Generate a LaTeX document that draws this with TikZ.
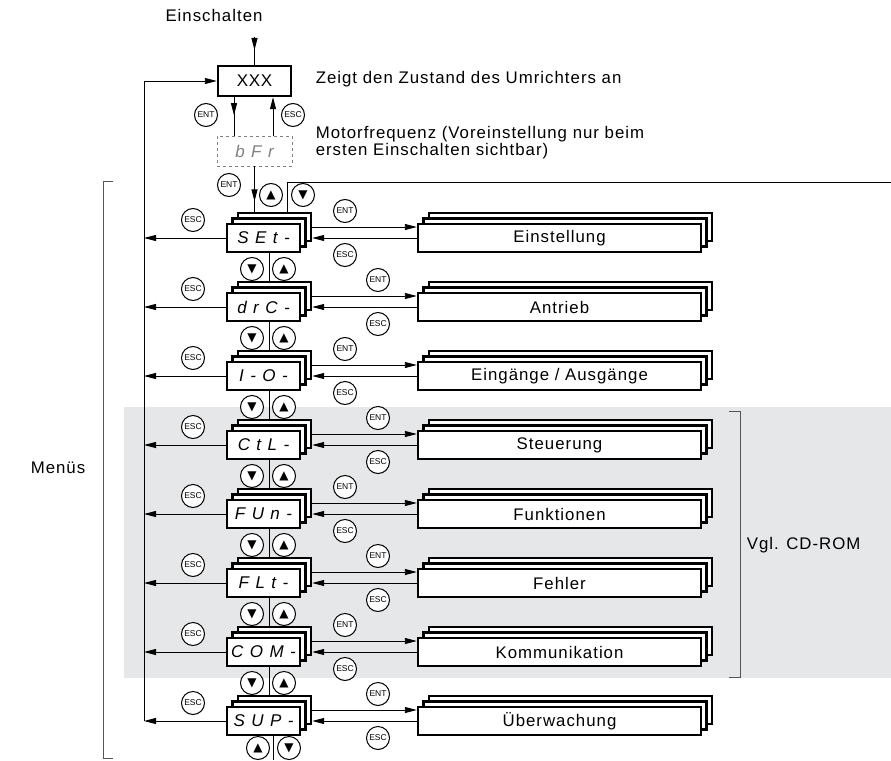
\documentclass[tikz,border=0pt]{standalone}
\usepackage{fontspec}
\setmainfont{Liberation Sans}
\newfontfamily\segfont[LetterSpace=38]{Liberation Sans}
\newfontfamily\symfont{DejaVu Sans}
\usetikzlibrary{arrows.meta,decorations.markings}
\definecolor{panelgray}{HTML}{E6E7E8}
\definecolor{brkgray}{HTML}{555555}
\newcommand\btnup{{\symfont\fontsize{12}{12}\selectfont ▲}}
\newcommand\btndn{{\symfont\fontsize{12}{12}\selectfont ▼}}

\tikzset{
  arr/.style={-{Triangle[length=12pt,width=6pt]}},
  tipat/.style={postaction={decorate},decoration={markings,
      mark=at position #1 with {\arrow{Triangle[length=12pt,width=6pt]}}}},
  layer/.style={draw,line width=2.4pt,fill=white,minimum height=28pt,inner sep=0pt},
  menubox/.style={layer,minimum width=73pt},
  bigbox/.style={layer,minimum width=283pt},
  btn/.style={circle,draw,line width=1pt,fill=white,minimum size=23pt,inner sep=0pt,
      font=\fontsize{8.5}{9}\selectfont},
  lbl/.style={font=\fontsize{16.8}{17}\selectfont\addfontfeature{LetterSpace=6}},
  segtext/.style={font=\segfont\itshape\fontsize{17}{17}\selectfont}
}

\begin{document}
\begin{tikzpicture}[x=1pt,y=-1pt,line width=0.9pt]
  \useasboundingbox (0,0) rectangle (891,760);
  \fill[panelgray] (124,407) rectangle (891,678);

  \coordinate (on) at (254.5,37);
  \coordinate (loop) at (144,81);
  \coordinate (rtop) at (891,182);
  \coordinate (bot) at (273,760);

  % power on, status display, motor frequency
  \node[lbl] (ein) at (214,15) {Einschalten};
  \node[layer,minimum width=73pt,minimum height=30pt,
        font=\fontsize{17}{17}\selectfont\addfontfeature{LetterSpace=4}] (XXX) at (254.5,81) {XXX};
  \node[draw=gray,dashed,line width=0.8pt,minimum width=75pt,minimum height=30pt,
        segtext,text=gray] (bFr) at (254.5,151) {bFr\hspace{-4pt}};
  \node[lbl,anchor=west] (zst) at (312,79) {Zeigt den Zustand des Umrichters an};
  \node[lbl,anchor=west,align=left] (mfr) at (312,143)
        {Motorfrequenz (Voreinstellung nur beim\\ersten Einschalten sichtbar)};

  % menu rows
  \foreach \nm/\txt/\menu/\bx [count=\i from 0] in {SET/SEt-/Einstellung/345,
      drC/drC-/Antrieb/378, IO/I-O-/{Eingänge / Ausgänge}/345, CtL/CtL-/Steuerung/378,
      FUn/FUn-/Funktionen/345, FLt/FLt-/Fehler/378, COM/COM-/Kommunikation/345,
      SUP/SUP-/Überwachung/378}{
    \pgfmathsetmacro\yy{238+69*\i}
    \node[menubox] (\nm b) at (274.5,\yy-11) {};
    \node[menubox] (\nm m) at (269,\yy-5.5) {};
    \node[menubox,segtext] (\nm) at (263.5,\yy) {\txt\hspace{-4pt}};
    \node[bigbox] (\nm Bb) at (570.5,\yy-11) {};
    \node[bigbox] (\nm Bm) at (565,\yy-5.5) {};
    \node[bigbox,lbl] (\nm B) at (559.5,\yy) {\menu};
    \draw[arr] (\nm b.east) -- (\nm B.west |- \nm b.east);
    \draw[arr] (\nm B.west) -- (\nm b.east |- \nm B.west);
    \draw[arr] (\nm.west) -- (\nm.west -| loop);
    \node[btn] (\nm escl) at (193,\yy-18) {ESC};
    \node[btn] (\nm ent) at (\bx,\yy-27) {ENT};
    \node[btn] (\nm escr) at (\bx,\yy+17) {ESC};
  }

  % links between menus
  \foreach \ma/\mb [count=\i from 0] in {SET/drC,drC/IO,IO/CtL,CtL/FUn,FUn/FLt,FLt/COM,COM/SUP}{
    \pgfmathsetmacro\yy{269+69*\i}
    \draw (\ma.south -| \ma m) -- (\mb b.north -| \ma m);
    \node[btn] (\ma dn) at (252,\yy) {\btndn};
    \node[btn] (\ma up) at (284,\yy) {\btnup};
  }

  \node[btn] (ent0) at (206,115) {ENT};
  \node[btn] (esc0) at (293,115) {ESC};
  \node[btn] (ent1) at (229,185) {ENT};
  \node[btn] (up0) at (271,195) {\btnup};
  \node[btn] (dn0) at (303,195) {\btndn};
  \node[btn] (up9) at (258,748) {\btnup};
  \node[btn] (dn9) at (289,748) {\btndn};

  \draw[tipat=13pt] (on) -- (XXX.north);
  \draw[tipat=18pt] ([xshift=-20.5pt]XXX.south) -- ([xshift=-20.5pt]bFr.north);
  \draw[arr] ([xshift=18.5pt]bFr.north) -- ([xshift=18.5pt]XXX.south);
  \draw[tipat=35pt] (bFr.south) -- (bFr.south |- SETb.north);
  \draw ([xshift=12.5pt]SETb.north) |- (rtop);
  \draw[arr] (SUP.west -| loop) -- (loop) -- (XXX.west);
  \draw (SUP.south -| bot) -- (bot);

  % brackets
  \draw[brkgray,line width=0.8pt] (113,181) -- (103,181) -- (103,758) -- (113,758);
  \node[lbl] (menus) at (58,468) {Menüs};
  \draw[brkgray,line width=0.8pt] (729,411) -- (740,411) -- (740,677) -- (729,677);
  \node[lbl,anchor=west] (cdrom) at (743,545) {Vgl. CD-ROM};
\end{tikzpicture}
\end{document}
